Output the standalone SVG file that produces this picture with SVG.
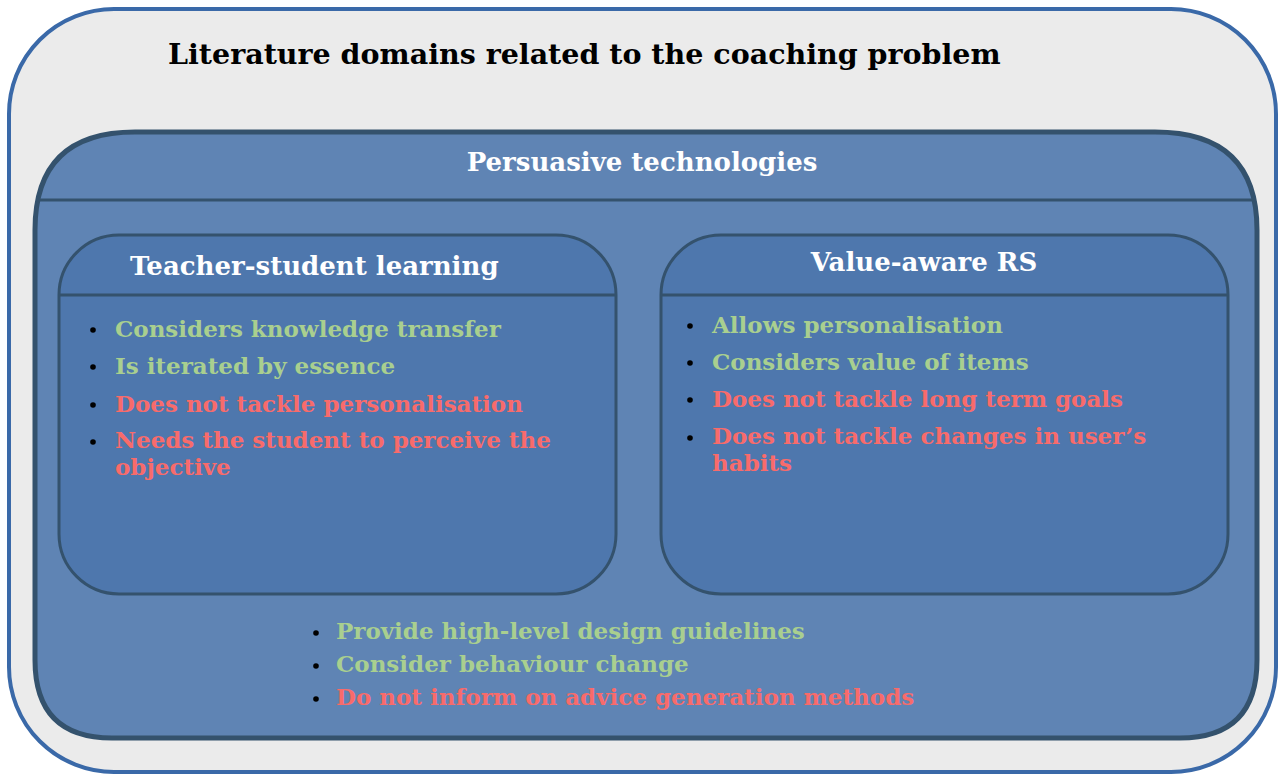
<svg xmlns="http://www.w3.org/2000/svg" width="1280" height="776" viewBox="0 0 1280 776">
<style>
.t{font-family:"DejaVu Serif","Liberation Serif",serif;font-weight:bold}
.g{fill:#a9cf8f;font-size:23px}
.r{fill:#f86b6b;font-size:23px}
.h{fill:#ffffff;font-size:26px}
.dot{fill:#000}
</style>
<rect width="1280" height="776" fill="#ffffff"/>
<g id="outer">
<rect x="9" y="9" width="1267" height="763" rx="105" ry="105" fill="#ebebeb" stroke="#3a69a8" stroke-width="4"/>
<text class="t" x="168" y="64" font-size="28.5" fill="#000">Literature domains related to the coaching problem</text>
</g>
<g id="persuasive">
<path d="M35,230 Q35,132 135,132 L1155,132 Q1257,132 1257,230 L1257,660 Q1257,738 1180,738 L112,738 Q35,738 35,660 Z" fill="#5f84b4" stroke="#34526d" stroke-width="5"/>
<line x1="37" y1="200" x2="1254" y2="200" stroke="#34526d" stroke-width="3"/>
<text class="t h" x="642" y="171" text-anchor="middle">Persuasive technologies</text>
<g>
<circle class="dot" cx="316" cy="633" r="2.8"/>
<text class="t g" x="336" y="639">Provide high-level design guidelines</text>
<circle class="dot" cx="316" cy="666" r="2.8"/>
<text class="t g" x="336" y="672">Consider behaviour change</text>
<circle class="dot" cx="316" cy="699" r="2.8"/>
<text class="t r" x="336" y="705">Do not inform on advice generation methods</text>
</g>
</g>
<g id="teacher">
<rect x="59" y="235" width="557" height="359" rx="60" ry="60" fill="#4e77ad" stroke="#34526d" stroke-width="3"/>
<line x1="60" y1="295" x2="615" y2="295" stroke="#34526d" stroke-width="3"/>
<text class="t h" x="130" y="275">Teacher-student learning</text>
<circle class="dot" cx="93" cy="330" r="2.8"/>
<text class="t g" x="115" y="337">Considers knowledge transfer</text>
<circle class="dot" cx="93" cy="367" r="2.8"/>
<text class="t g" x="115" y="374">Is iterated by essence</text>
<circle class="dot" cx="93" cy="405" r="2.8"/>
<text class="t r" x="115" y="412">Does not tackle personalisation</text>
<circle class="dot" cx="93" cy="442" r="2.8"/>
<text class="t r" x="115" y="448"><tspan x="115" y="448">Needs the student to perceive the</tspan><tspan x="115" y="475">objective</tspan></text>
</g>
<g id="value">
<rect x="661" y="235" width="567" height="359" rx="60" ry="60" fill="#4e77ad" stroke="#34526d" stroke-width="3"/>
<line x1="662" y1="295" x2="1227" y2="295" stroke="#34526d" stroke-width="3"/>
<text class="t h" x="924" y="271" text-anchor="middle">Value-aware RS</text>
<circle class="dot" cx="690" cy="326" r="2.8"/>
<text class="t g" x="712" y="333">Allows personalisation</text>
<circle class="dot" cx="690" cy="363" r="2.8"/>
<text class="t g" x="712" y="370">Considers value of items</text>
<circle class="dot" cx="690" cy="400" r="2.8"/>
<text class="t r" x="712" y="407">Does not tackle long term goals</text>
<circle class="dot" cx="690" cy="438" r="2.8"/>
<text class="t r" x="712" y="444"><tspan x="712" y="444">Does not tackle changes in user’s</tspan><tspan x="712" y="471">habits</tspan></text>
</g>
<g id="connectors"></g>
</svg>
